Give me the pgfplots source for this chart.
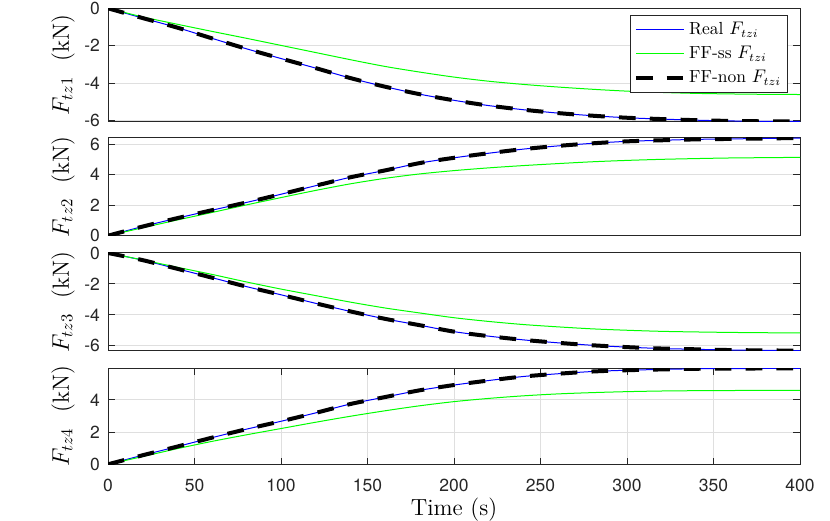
\documentclass[border=0pt]{standalone}
\usepackage{fontspec}
\usepackage{pgfplots}
\usepackage{pgfplotstable}
\pgfplotsset{compat=1.18}
\newfontfamily\heros{TeX Gyre Heros}
\definecolor{axgray}{RGB}{38,38,38}
\definecolor{gridgray}{RGB}{223,223,223}
\definecolor{mblue}{RGB}{0,0,255}
\definecolor{mgreen}{RGB}{0,255,0}
\newcommand{\tickfont}{\heros\fontsize{10.5}{12}\selectfont}
\newcommand{\labelfont}{\fontsize{14}{16}\selectfont}

\pgfplotstableread{
t    r1     s1     r2    s2    r3     s3     r4    s4
0    0      0      0     0     0      0      0     0
20  -0.52  -0.46   0.60  0.52  -0.46  -0.45  0.56  0.48
40  -1.03  -0.85   1.15  1.03  -1.02  -0.92  1.10  0.97
60  -1.60  -1.23   1.67  1.52  -1.59  -1.38  1.65  1.42
80  -2.16  -1.60   2.18  2.02  -2.17  -1.87  2.18  1.83
100 -2.68  -1.98   2.72  2.50  -2.70  -2.33  2.67  2.22
120 -3.19  -2.36   3.28  2.97  -3.25  -2.75  3.19  2.61
140 -3.72  -2.74   3.83  3.40  -3.77  -3.17  3.74  2.98
160 -4.18  -3.10   4.28  3.76  -4.25  -3.55  4.17  3.32
180 -4.58  -3.40   4.76  4.05  -4.66  -3.87  4.59  3.63
200 -4.91  -3.67   5.11  4.27  -5.08  -4.18  4.92  3.89
220 -5.19  -3.89   5.41  4.45  -5.37  -4.42  5.20  4.09
240 -5.41  -4.06   5.68  4.60  -5.61  -4.62  5.45  4.25
260 -5.59  -4.20   5.89  4.73  -5.80  -4.77  5.62  4.37
280 -5.73  -4.32   6.06  4.85  -5.96  -4.90  5.76  4.45
300 -5.84  -4.42   6.19  4.94  -6.08  -4.99  5.84  4.51
320 -5.91  -4.49   6.26  5.01  -6.17  -5.06  5.89  4.55
340 -5.97  -4.54   6.32  5.06  -6.22  -5.10  5.93  4.57
360 -6.01  -4.57   6.35  5.10  -6.27  -5.13  5.94  4.58
380 -6.03  -4.59   6.38  5.12  -6.29  -5.15  5.95  4.59
400 -6.04  -4.60   6.41  5.14  -6.31  -5.16  5.96  4.59
}\data

\pgfplotsset{
  myax/.style={
    scale only axis, width=415.2pt, anchor=south west,
    xmin=0, xmax=400,
    axis line style={color=axgray, line width=0.6pt},
    tick style={color=axgray, line width=0.6pt},
    tick align=inside, major tick length=4pt,
    xtick pos=both, ytick pos=both,
    ticklabel style={font=\tickfont, color=axgray},
    /pgf/number format/assume math mode=true,
    xticklabel style={yshift=-5.5pt},
    yticklabel style={xshift=-1.3pt},
    ymajorgrids,
    grid style={color=gridgray, line width=0.6pt},
    ylabel style={at={(axis description cs:-0.0477,0.5)}, anchor=south, inner sep=0pt, font=\labelfont},
    xlabel style={anchor=north, inner sep=0pt, font=\labelfont},
    legend image code/.code={\draw[##1] (0pt,0pt) -- (28.8pt,0pt);},
  },
  realst/.style={draw=mblue, line width=0.6pt, smooth},
  ssst/.style={draw=mgreen, line width=0.6pt, smooth},
  nonst/.style={draw=black, line width=2.4pt, dash pattern=on 10pt off 8.5pt, smooth},
}

\begin{document}
\begin{tikzpicture}
\useasboundingbox (0,0) rectangle (498pt,312.6pt);

\begin{axis}[myax, at={(64.8pt,239.58pt)}, height=68.04pt,
  ymin=-6.05, ymax=0, ytick={-6,-4,-2,0}, xtick=\empty,
  ylabel={$F_{tz1}$\ \ (kN)},
  legend style={at={(rel axis cs:0.983,0.941)}, anchor=north east,
    font=\fontsize{10.5}{12}\selectfont, draw=axgray, line width=0.6pt,
    fill=white, inner sep=2pt, row sep=1.5pt, legend cell align=left},
]
\addplot[realst] table[x=t,y=r1] {\data};
\addlegendentry{Real $F_{tzi}$}
\addplot[ssst] table[x=t,y=s1] {\data};
\addlegendentry{FF-ss $F_{tzi}$}
\addplot[nonst] table[x=t,y=r1] {\data};
\addlegendentry{FF-non $F_{tzi}$}
\end{axis}

\begin{axis}[myax, at={(64.8pt,171.18pt)}, height=58.8pt,
  ymin=0, ymax=6.43, ytick={0,2,4,6}, xtick=\empty,
  ylabel={$F_{tz2}$\ \ (kN)},
]
\addplot[realst] table[x=t,y=r2] {\data};
\addplot[ssst] table[x=t,y=s2] {\data};
\addplot[nonst] table[x=t,y=r2] {\data};
\end{axis}

\begin{axis}[myax, at={(64.8pt,102.18pt)}, height=58.62pt,
  ymin=-6.31, ymax=0, ytick={-6,-4,-2,0}, xtick=\empty,
  ylabel={$F_{tz3}$\ \ (kN)},
]
\addplot[realst] table[x=t,y=r3] {\data};
\addplot[ssst] table[x=t,y=s3] {\data};
\addplot[nonst] table[x=t,y=r3] {\data};
\end{axis}

\begin{axis}[myax, at={(64.8pt,34.02pt)}, height=57.6pt,
  ymin=0, ymax=5.96, ytick={0,2,4},
  xtick={0,50,...,400}, xmajorgrids,
  ylabel={$F_{tz4}$\ \ (kN)},
  xlabel={Time (s)},
  xlabel style={at={(axis description cs:0.5,-0.352)}},
]
\addplot[realst] table[x=t,y=r4] {\data};
\addplot[ssst] table[x=t,y=s4] {\data};
\addplot[nonst] table[x=t,y=r4] {\data};
\end{axis}
\end{tikzpicture}
\end{document}
